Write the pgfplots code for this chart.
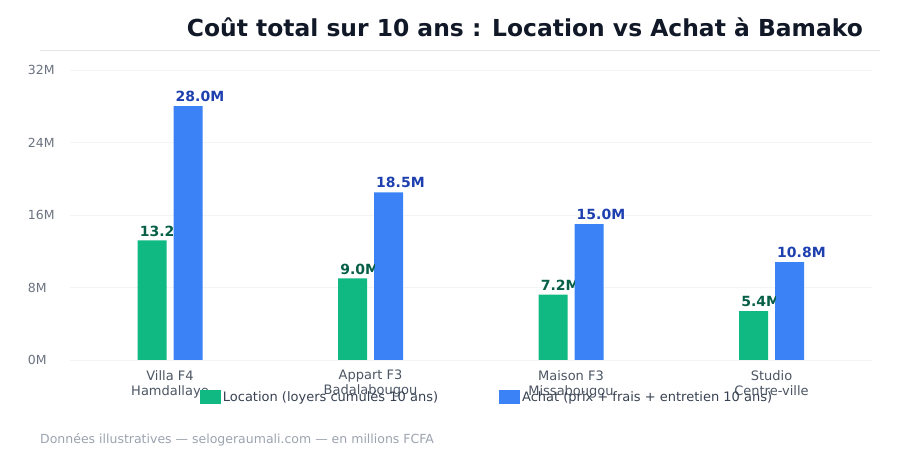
\documentclass[border=0pt]{standalone}
\usepackage{fontspec}
\setmainfont{DejaVu Sans}
\usepackage{pgfplots}
\pgfplotsset{compat=1.18}

\definecolor{rentgreen}{HTML}{10B981}
\definecolor{buyblue}{HTML}{3B82F6}
\definecolor{rentlabel}{HTML}{065F46}
\definecolor{buylabel}{HTML}{1E40AF}
\definecolor{titlecol}{HTML}{111827}
\definecolor{ticklab}{HTML}{6B7280}
\definecolor{catlab}{HTML}{4B5563}
\definecolor{legtext}{HTML}{374151}
\definecolor{footcol}{HTML}{9CA3AF}
\definecolor{gridcol}{HTML}{F3F4F6}
\definecolor{rulecol}{HTML}{E5E7EB}

\begin{document}
\begin{tikzpicture}[x=1pt,y=1pt]
\path[use as bounding box] (0,0) rectangle (900,460);

% title and rule beneath it
\node[anchor=base east, inner sep=0, text=titlecol,
      font=\fontsize{23.4}{27}\selectfont\bfseries] at (863,423) {Coût total sur 10 ans : Location vs Achat à Bamako};
\draw[rulecol, line width=0.8pt] (40,410) -- (880,410);

\begin{axis}[
  at={(170pt,100pt)}, anchor=origin,
  scale only axis, width=802pt, height=290pt,
  xmin=-0.5, xmax=3.5, ymin=0, ymax=32,
  ytick={0,8,16,24,32},
  yticklabel={\pgfmathprintnumber{\tick}M},
  /pgf/number format/assume math mode=true,
  yticklabel style={anchor=west, xshift=-42pt, inner sep=0pt, text=ticklab,
                    font=\fontsize{12.5}{15}\selectfont},
  xtick={0,1,2,3},
  xticklabels={{Villa F4\\Hamdallaye},{Appart F3\\Badalabougou},{Maison F3\\Missabougou},{Studio\\Centre-ville}},
  xticklabel style={align=center, text=catlab, inner sep=0pt, yshift=-10pt,
                    font=\fontsize{13}{15}\selectfont},
  major tick length=0pt,
  axis line style={draw=none},
  ymajorgrids, major grid style={gridcol, line width=0.8pt},
  ybar, bar width=29pt,
  clip=false,
  legend columns=2,
  legend style={at={(0.162,-0.1276)}, anchor=west, draw=none, fill=none,
        font=\fontsize{13}{15}\selectfont, text=legtext,
        /tikz/every even column/.append style={column sep=59pt},
        inner sep=0pt},
  legend image code/.code={\fill[#1] (0pt,-7pt) rectangle (21pt,7pt);},
]
% rent: the value label runs into the purchase bar, so it is clipped at that bar's edge
\addplot[fill=rentgreen, draw=none, bar shift=-18pt,
  nodes near coords={\mbox{}},
  every node near coord/.append style={anchor=south west, inner sep=0pt,
        xshift=-12.5pt, yshift=1pt, minimum width=34pt, minimum height=17pt,
        path picture={\node[anchor=base west, inner sep=0pt, text=rentlabel,
              font=\fontsize{14}{16}\selectfont\bfseries]
              at ([yshift=3pt]path picture bounding box.south west)
              {\pgfmathprintnumber[fixed,fixed zerofill,precision=1]{\pgfplotspointmeta}M};}}]
  coordinates {(0,13.2) (1,9.0) (2,7.2) (3,5.4)};
\addlegendentry{Location (loyers cumulés 10 ans)}
\addplot[fill=buyblue, draw=none, bar shift=18pt,
  nodes near coords={\pgfmathprintnumber[fixed,fixed zerofill,precision=1]{\pgfplotspointmeta}M},
  every node near coord/.append style={anchor=south west, inner sep=0pt, text=buylabel,
        xshift=-12.5pt, yshift=4pt, font=\fontsize{14}{16}\selectfont\bfseries}]
  coordinates {(0,28.0) (1,18.5) (2,15.0) (3,10.8)};
\addlegendentry{Achat (prix + frais + entretien 10 ans)}
\end{axis}

% footer note
\node[anchor=base west, inner sep=0, text=footcol, font=\fontsize{12.5}{15}\selectfont]
  at (40,16) {Données illustratives — selogeraumali.com — en millions FCFA};
\end{tikzpicture}
\end{document}
